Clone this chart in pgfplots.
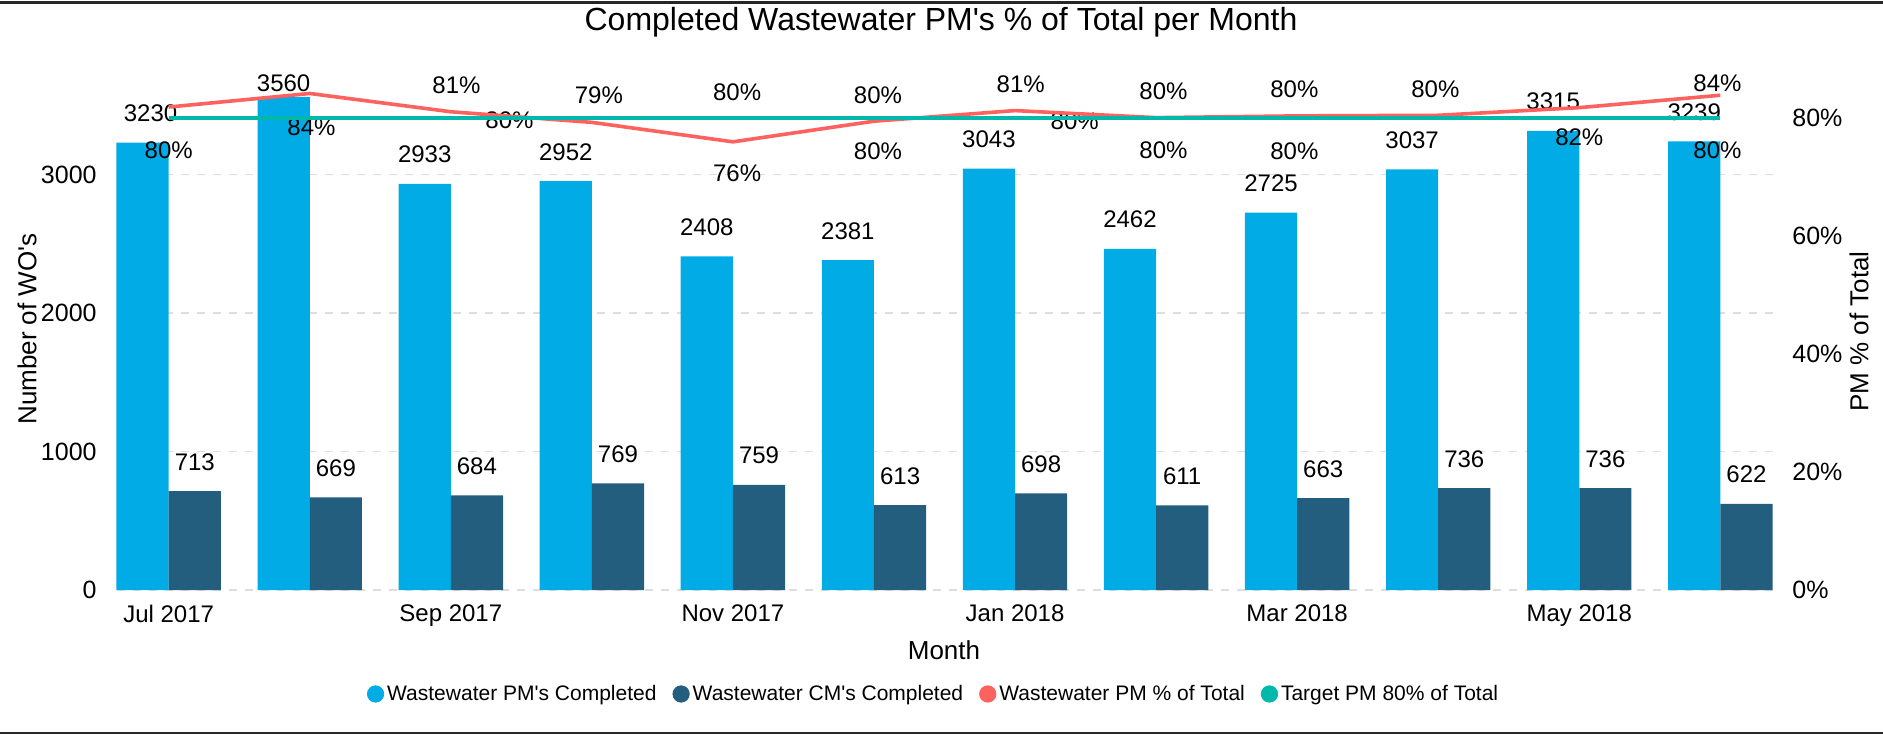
\documentclass[border=0pt]{standalone}
\usepackage{pgfplots}
\pgfplotsset{compat=1.18}
\usepackage{pgfplotstable}
\usepackage{fontspec}
\setmainfont{Liberation Sans}[Ligatures=TeXOff]

\definecolor{pmblue}{RGB}{1,172,230}
\definecolor{cmblue}{RGB}{36,94,126}
\definecolor{pctred}{RGB}{253,98,94}
\definecolor{tgtteal}{RGB}{1,184,170}
\definecolor{gridgray}{RGB}{222,222,222}

\pgfplotstableread{
x pm cm
0 3230 713
1 3560 669
2 2933 684
3 2952 769
4 2408 759
5 2381 613
6 3043 698
7 2462 611
8 2725 663
9 3037 736
10 3315 736
11 3239 622
}\datatable

\begin{document}
\begin{tikzpicture}
\path[use as bounding box] (0,0) rectangle (941.5pt,367.5pt);
\begin{axis}[
  at={(58.25pt,72.5pt)}, anchor=south west,
  scale only axis, width=828pt, height=259.7pt,
  xmin=-0.37, xmax=11.37, ymin=0, ymax=3750,
  ybar=0pt, bar width=26.1pt,
  axis x line*=bottom, axis y line*=left,
  axis line style={draw=none},
  major tick length=0pt,
  xtick={0,2,4,6,8,10},
  xticklabels={Jul 2017,Sep 2017,Nov 2017,Jan 2018,Mar 2018,May 2018},
  xticklabel style={font=\fontsize{12}{14}\selectfont, inner sep=0pt, anchor=north, yshift=-7.2pt},
  ytick={0,1000,2000,3000},
  yticklabels={0,1000,2000,3000},
  yticklabel style={font=\fontsize{12.5}{14}\selectfont, inner sep=0pt, anchor=east, xshift=-9.75pt},
  ymajorgrids, grid style={gridgray, dash pattern=on 4pt off 4pt, line width=0.8pt},
  point meta=explicit symbolic,
  nodes near coords,
  every node near coord/.append style={font=\fontsize{12}{14}\selectfont, anchor=south, inner sep=0pt, text=black, yshift=10.2pt},
  clip=false,
]
\addplot[fill=pmblue, draw=none,
  coordinate style/.condition={\coordindex==0}{xshift=4pt},
  coordinate style/.condition={\coordindex==1}{yshift=-8pt}]
  table[x=x, y=pm, meta=pm]{\datatable};
\addplot[fill=cmblue, draw=none]
  table[x=x, y=cm, meta=cm]{\datatable};

\begin{scope}[every node/.style={font=\fontsize{12}{14}\selectfont, inner sep=0pt, anchor=center}]
\node at (axis cs:0,3175) {80\%};
\node at (axis cs:1.012,3340) {84\%};
\node at (axis cs:2.04,3645) {81\%};
\node at (axis cs:2.416,3391) {80\%};
\node at (axis cs:3.05,3573) {79\%};
\node at (axis cs:4.03,3591) {80\%};
\node at (axis cs:4.03,3010) {76\%};
\node at (axis cs:5.028,3573) {80\%};
\node at (axis cs:5.028,3165) {80\%};
\node at (axis cs:6.04,3655) {81\%};
\node at (axis cs:6.423,3386) {80\%};
\node at (axis cs:7.052,3598) {80\%};
\node at (axis cs:7.052,3175) {80\%};
\node at (axis cs:7.98,3613) {80\%};
\node at (axis cs:7.98,3165) {80\%};
\node at (axis cs:8.98,3613) {80\%};
\node at (axis cs:10.0,3272) {82\%};
\node at (axis cs:10.98,3656) {84\%};
\node at (axis cs:10.98,3175) {80\%};
\end{scope}
\end{axis}

\begin{axis}[
  at={(58.25pt,72.5pt)}, anchor=south west,
  scale only axis, width=828pt, height=259.7pt,
  xmin=-0.37, xmax=11.37, ymin=0, ymax=88.08,
  axis x line=none, axis y line*=right,
  axis line style={draw=none},
  major tick length=0pt,
  ytick={0,20,40,60,80},
  yticklabels={0\%,20\%,40\%,60\%,80\%},
  yticklabel style={font=\fontsize{12.5}{14}\selectfont, inner sep=0pt, anchor=west, xshift=9.75pt},
  legend style={at={(0.4937,-0.2002)}, anchor=center, draw=none, legend columns=4,
    font=\fontsize{10.5}{12}\selectfont, nodes={inner sep=1.5pt},
    /tikz/every even column/.append style={column sep=6.5pt}},
  legend cell align=left,
  clip=false,
]
\addlegendimage{legend image code/.code={\fill[pmblue] (4.1pt,0pt) circle (4.1pt);}}
\addlegendentry{Wastewater PM's Completed}
\addlegendimage{legend image code/.code={\fill[cmblue] (4.1pt,0pt) circle (4.1pt);}}
\addlegendentry{Wastewater CM's Completed}
\addlegendimage{legend image code/.code={\fill[pctred] (4.1pt,0pt) circle (4.1pt);}}
\addlegendentry{Wastewater PM \% of Total}
\addlegendimage{legend image code/.code={\fill[tgtteal] (4.1pt,0pt) circle (4.1pt);}}
\addlegendentry{Target PM 80\% of Total}

\addplot[pctred, line width=1.8pt, forget plot] coordinates {
(0,81.9) (1,84.2) (2,81.1) (3,79.3) (4,76.0) (5,79.5) (6,81.3) (7,80.1) (8,80.4) (9,80.5) (10,81.8) (11,83.9)};
\addplot[tgtteal, line width=1.8pt, forget plot] coordinates {
(0,80) (1,80) (2,80) (3,80) (4,80) (5,80) (6,80) (7,80) (8,80) (9,80) (10,80) (11,80)};
\end{axis}

\node[font=\fontsize{16}{19}\selectfont] at (470.5pt,356.5pt) {Completed Wastewater PM's \% of Total per Month};
\node[font=\fontsize{13}{15}\selectfont] at (472pt,42.5pt) {Month};
\node[font=\fontsize{13}{15}\selectfont, rotate=90] at (13.5pt,203pt) {Number of WO's};
\node[font=\fontsize{13}{15}\selectfont, rotate=90] at (929.5pt,201.75pt) {PM \% of Total};
\draw[line width=1.2pt, black!85] (0,366.3pt) -- (941.5pt,366.3pt);
\draw[line width=1.2pt, black!85] (0,0.9pt) -- (941.5pt,0.9pt);
\end{tikzpicture}
\end{document}
